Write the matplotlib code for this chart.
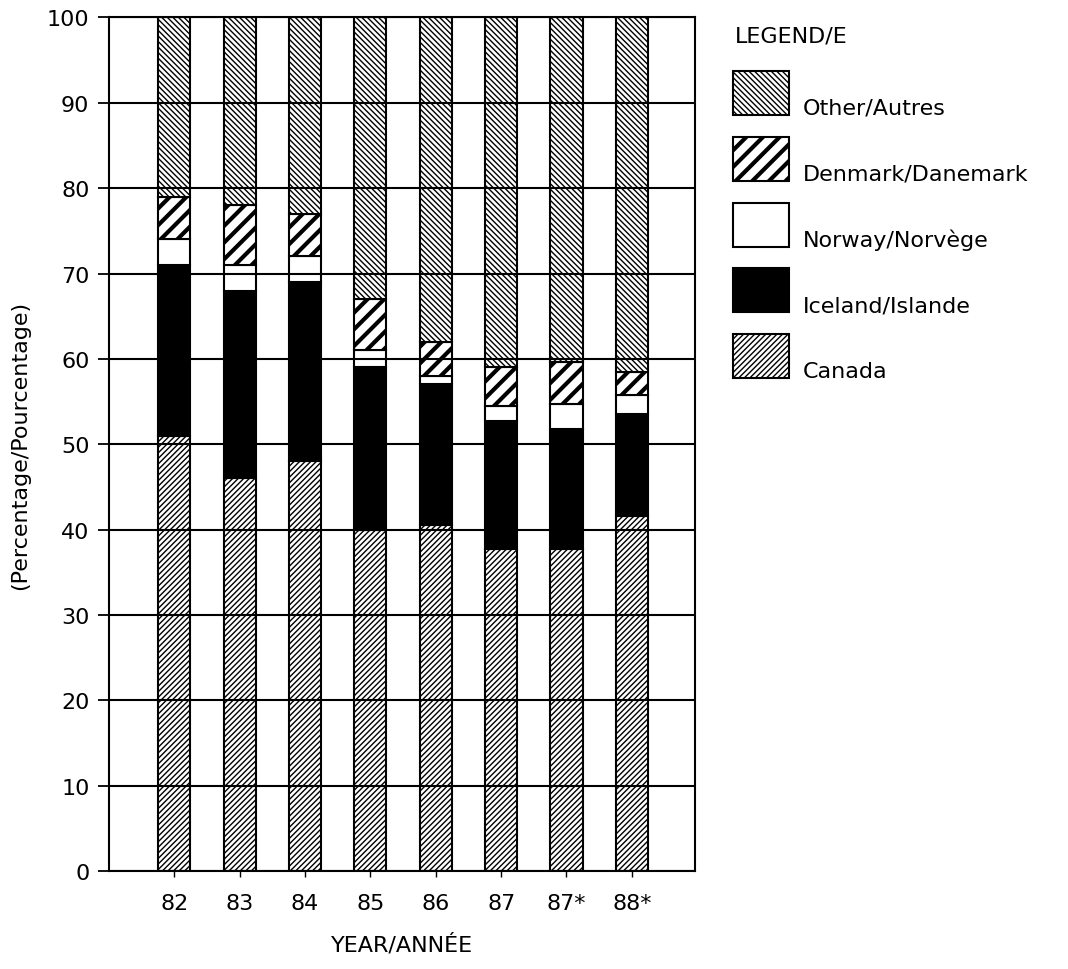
import numpy as np
import matplotlib
matplotlib.use('Agg')
import matplotlib.pyplot as plt
from matplotlib.patches import Rectangle

years = ['82', '83', '84', '85', '86', '87', '87*', '88*']
canada = [51, 46, 48, 40, 40.5, 37.7, 37.7, 41.6]
iceland = [20, 22, 21, 19, 16.5, 15.0, 14.1, 11.9]
norway = [3, 3, 3, 2, 1, 1.8, 2.9, 2.3]
denmark = [5, 7, 5, 6, 4, 4.5, 4.9, 2.7]
other = [21, 22, 23, 33, 38, 41, 40.4, 41.5]

plt.rcParams['hatch.linewidth'] = 1.0
plt.rcParams['font.family'] = 'DejaVu Sans'

W, H = 1068, 970
fig = plt.figure(figsize=(W / 100, H / 100), dpi=100)
ax = fig.add_axes([0.102, 0.101, 0.549, 0.880])

x = np.arange(len(years))
w = 0.49
bottom = np.zeros(len(years))

series = [
    (canada, 'white', '//////', 1.0, 'Canada'),
    (iceland, 'black', None, 1.0, 'Iceland/Islande'),
    (norway, 'white', None, 1.0, 'Norway/Norvège'),
    (denmark, 'white', '//', 3.0, 'Denmark/Danemark'),
    (other, 'white', '\\\\\\\\\\\\', 1.0, 'Other/Autres'),
]

for vals, fc, hatch, hlw, lab in series:
    vals = np.array(vals)
    with plt.rc_context({'hatch.linewidth': hlw}):
        ax.bar(x, vals, w, bottom=bottom, color=fc, edgecolor='black',
               hatch=hatch, linewidth=1.5, zorder=1)
    bottom = bottom + vals

ax.set_xlim(-1.0, 7.97)
ax.set_ylim(0, 100)
ax.set_yticks(np.arange(0, 101, 10))
ax.set_xticks(x)
ax.set_xticklabels(years)
ax.tick_params(axis='y', direction='out', length=8, width=1.3, labelsize=16, pad=6)
ax.tick_params(axis='x', direction='out', length=4, width=1.0, labelsize=16, pad=12)
ax.set_axisbelow(False)
ax.yaxis.grid(True, color='black', linewidth=1.5)
for s in ax.spines.values():
    s.set_linewidth(1.5)

ax.set_xlabel('YEAR/ANNÉE', fontsize=16, labelpad=14)
ax.set_ylabel('(Percentage/Pourcentage)', fontsize=16, labelpad=12)

# legend drawn by hand: key box with label sitting at its lower right
fig.text(735 / W, 1 - 37 / H, 'LEGEND/E', fontsize=16, va='center', ha='left')
box_w, box_h, row = 56, 44, 65.75
for i, (vals, fc, hatch, hlw, lab) in enumerate(series[::-1]):
    top = 72 + i * row
    with plt.rc_context({'hatch.linewidth': hlw}):
        r = Rectangle((733 / W, 1 - (top + box_h) / H), box_w / W, box_h / H,
                      transform=fig.transFigure, facecolor=fc,
                      edgecolor='black', hatch=hatch, linewidth=1.5)
    fig.add_artist(r)
    fig.text(803 / W, 1 - (top + box_h - 7) / H, lab, fontsize=16,
             va='center', ha='left')

fig.savefig('out.png', dpi=100)
